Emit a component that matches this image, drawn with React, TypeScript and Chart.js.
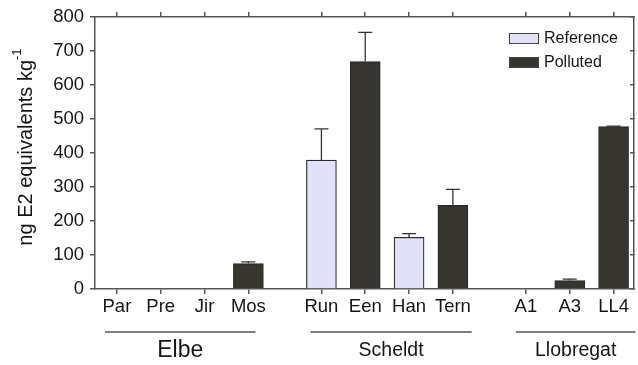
import React, { useEffect, useRef } from 'react';
import { Chart, registerables } from 'chart.js';

Chart.register(...registerables);

// ---- data ----
const groupNames = ['Elbe', 'Scheldt', 'Llobregat'];
const groupSites = [
  ['Par', 'Pre', 'Jir', 'Mos'],
  ['Run', 'Een', 'Han', 'Tern'],
  ['A1', 'A3', 'LL4'],
];
const sites = ['Par', 'Pre', 'Jir', 'Mos', 'Run', 'Een', 'Han', 'Tern', 'A1', 'A3', 'LL4'];
const referenceValues: (number | null)[] = [null, null, null, null, 379, null, 152, null, null, null, null];
const referenceErrors: (number | null)[] = [null, null, null, null, 92, null, 11, null, null, null, null];
const pollutedValues: (number | null)[] = [null, null, null, 75, null, 669, null, 246, null, 25, 478];
const pollutedErrors: (number | null)[] = [null, null, null, 5, null, 86, null, 47, null, 4, 1];
const yTicks = [0, 100, 200, 300, 400, 500, 600, 700, 800];
const seriesNames = ['Reference', 'Polluted'];

// ---- layout constants ----
const GROUP_GAP = 1.667;
const FONT = 'Liberation Sans, Arial, sans-serif';
const AXIS_COLOR = '#555';
const TEXT_COLOR = '#151515';
const REF_FILL = '#e1e1f7';
const POL_FILL = '#36352f';
const BAR_BORDER = '#2a2a2a';
const groupLinePad: [number, number][] = [[-0.27, 0.16], [-0.25, 0.43], [-0.23, 0.5]];
const groupFontSize = [23, 19.5, 19.5];

function computePositions(): number[] {
  const pos: number[] = [];
  let x = 0;
  groupSites.forEach((g, gi) => {
    if (gi > 0) x += GROUP_GAP - 1;
    g.forEach(() => {
      pos.push(x);
      x += 1;
    });
  });
  return pos;
}
const positions = computePositions();

function buildData(values: (number | null)[], errors: (number | null)[]) {
  const out: any[] = [];
  values.forEach((v, i) => {
    if (v !== null) out.push({ x: positions[i], y: v, err: errors[i] });
  });
  return out;
}

const errorBarPlugin = {
  id: 'errorBars',
  afterDatasetsDraw(chart: any) {
    const ctx = chart.ctx;
    const yScale = chart.scales.y;
    chart.data.datasets.forEach((ds: any, di: number) => {
      const meta = chart.getDatasetMeta(di);
      meta.data.forEach((el: any, i: number) => {
        const pt = ds.data[i];
        if (!pt || pt.err == null) return;
        const x = el.x;
        const yTop = el.y;
        const yErr = yScale.getPixelForValue(pt.y + pt.err);
        ctx.save();
        ctx.strokeStyle = '#333';
        ctx.lineWidth = 1.3;
        ctx.beginPath();
        ctx.moveTo(x, yTop);
        ctx.lineTo(x, yErr);
        ctx.moveTo(x - 7, yErr);
        ctx.lineTo(x + 7, yErr);
        ctx.stroke();
        ctx.restore();
      });
    });
  },
};

const overlayPlugin = {
  id: 'overlay',
  afterDraw(chart: any) {
    const ctx = chart.ctx;
    const xs = chart.scales.x;
    const area = chart.chartArea;
    ctx.save();
    // legend
    const lx = 509;
    const ly = 33;
    chart.data.datasets.forEach((ds: any, i: number) => {
      const y = ly + i * 24;
      ctx.fillStyle = ds.backgroundColor;
      ctx.fillRect(lx, y, 30, 11);
      ctx.strokeStyle = '#444';
      ctx.lineWidth = 1;
      ctx.strokeRect(lx + 0.5, y + 0.5, 29, 10);
      ctx.fillStyle = TEXT_COLOR;
      ctx.font = `16px ${FONT}`;
      ctx.textBaseline = 'middle';
      ctx.textAlign = 'left';
      ctx.fillText(ds.label, lx + 35, y + 6);
    });
    // group lines and labels
    let idx = 0;
    groupSites.forEach((g, gi) => {
      const first = positions[idx];
      const last = positions[idx + g.length - 1];
      idx += g.length;
      const x1 = xs.getPixelForValue(first + groupLinePad[gi][0]);
      const x2 = Math.min(xs.getPixelForValue(last + groupLinePad[gi][1]), chart.width);
      ctx.strokeStyle = AXIS_COLOR;
      ctx.lineWidth = 1.5;
      ctx.beginPath();
      ctx.moveTo(x1, 332);
      ctx.lineTo(x2, 332);
      ctx.stroke();
      ctx.fillStyle = TEXT_COLOR;
      ctx.font = `${groupFontSize[gi]}px ${FONT}`;
      ctx.textAlign = 'center';
      ctx.textBaseline = 'middle';
      ctx.fillText(groupNames[gi], (x1 + x2) / 2, 351);
    });
    // y axis title with superscript
    const main = 'ng E2 equivalents kg';
    const sup = '-1';
    ctx.font = `20px ${FONT}`;
    const wMain = ctx.measureText(main).width;
    ctx.font = `13px ${FONT}`;
    const wSup = ctx.measureText(sup).width;
    const total = wMain + wSup;
    const cy = (area.top + area.bottom) / 2 - 6;
    ctx.translate(26, cy);
    ctx.rotate(-Math.PI / 2);
    ctx.textAlign = 'left';
    ctx.textBaseline = 'middle';
    ctx.fillStyle = TEXT_COLOR;
    ctx.font = `20px ${FONT}`;
    ctx.fillText(main, -total / 2, 0);
    ctx.font = `13px ${FONT}`;
    ctx.fillText(sup, -total / 2 + wMain, -9);
    ctx.restore();
  },
};

export default function App() {
  const ref = useRef<HTMLCanvasElement | null>(null);
  useEffect(() => {
    document.body.style.margin = '0';
    if (!ref.current) return;
    const setTicks = (s: any) => {
      s.ticks = positions.map((v) => ({ value: v }));
    };
    const chart = new Chart(ref.current, {
      type: 'bar',
      data: {
        datasets: [
          {
            label: seriesNames[0],
            data: buildData(referenceValues, referenceErrors),
            backgroundColor: REF_FILL,
            borderColor: BAR_BORDER,
            borderWidth: 1.2,
            barThickness: 30,
            grouped: false,
            xAxisID: 'x',
            yAxisID: 'y',
          } as any,
          {
            label: seriesNames[1],
            data: buildData(pollutedValues, pollutedErrors),
            backgroundColor: POL_FILL,
            borderColor: BAR_BORDER,
            borderWidth: 1.2,
            barThickness: 30,
            grouped: false,
            xAxisID: 'x',
            yAxisID: 'y',
          } as any,
        ],
      },
      options: {
        animation: false,
        responsive: true,
        maintainAspectRatio: false,
        layout: { padding: 0 },
        plugins: { legend: { display: false }, tooltip: { enabled: false } },
        scales: {
          x: {
            type: 'linear',
            position: 'bottom',
            min: -0.5,
            max: 11.8,
            offset: false,
            afterBuildTicks: setTicks,
            ticks: {
              callback: (_v: any, i: number) => sites[i],
              font: { family: FONT, size: 18.5 },
              color: TEXT_COLOR,
              padding: 2,
              autoSkip: false,
              maxRotation: 0,
            },
            grid: { drawOnChartArea: false, tickLength: 5, color: AXIS_COLOR, offset: false, lineWidth: 1.5 },
            border: { color: AXIS_COLOR, width: 1.5 },
            afterFit: (s: any) => {
              s.height = 76;
            },
          } as any,
          x2: {
            type: 'linear',
            position: 'top',
            min: -0.5,
            max: 11.8,
            offset: false,
            afterBuildTicks: setTicks,
            ticks: { display: false },
            grid: { drawOnChartArea: false, tickLength: 5, color: AXIS_COLOR, offset: false, lineWidth: 1.5 },
            border: { color: AXIS_COLOR, width: 1.5 },
            afterFit: (s: any) => {
              s.height = 13;
            },
          } as any,
          y: {
            type: 'linear',
            position: 'left',
            min: 0,
            max: 800,
            afterBuildTicks: (s: any) => {
              s.ticks = yTicks.map((v) => ({ value: v }));
            },
            ticks: { font: { family: FONT, size: 18.5 }, color: TEXT_COLOR, padding: 6 },
            grid: { drawOnChartArea: false, tickLength: 5, color: AXIS_COLOR, lineWidth: 1.5 },
            border: { color: AXIS_COLOR, width: 1.5 },
            afterFit: (s: any) => {
              s.width = 95;
            },
          } as any,
          y2: {
            type: 'linear',
            position: 'right',
            min: 0,
            max: 800,
            afterBuildTicks: (s: any) => {
              s.ticks = yTicks.map((v) => ({ value: v }));
            },
            ticks: { display: false },
            grid: { drawOnChartArea: false, tickLength: -4, color: AXIS_COLOR, lineWidth: 1.5 },
            border: { color: AXIS_COLOR, width: 1.5 },
            afterFit: (s: any) => {
              s.width = 4;
            },
          } as any,
        },
      },
      plugins: [errorBarPlugin, overlayPlugin],
    });
    return () => chart.destroy();
  }, []);
  return (
    <div style={{ width: 638, height: 365, position: 'relative' }}>
      <canvas ref={ref} />
    </div>
  );
}
